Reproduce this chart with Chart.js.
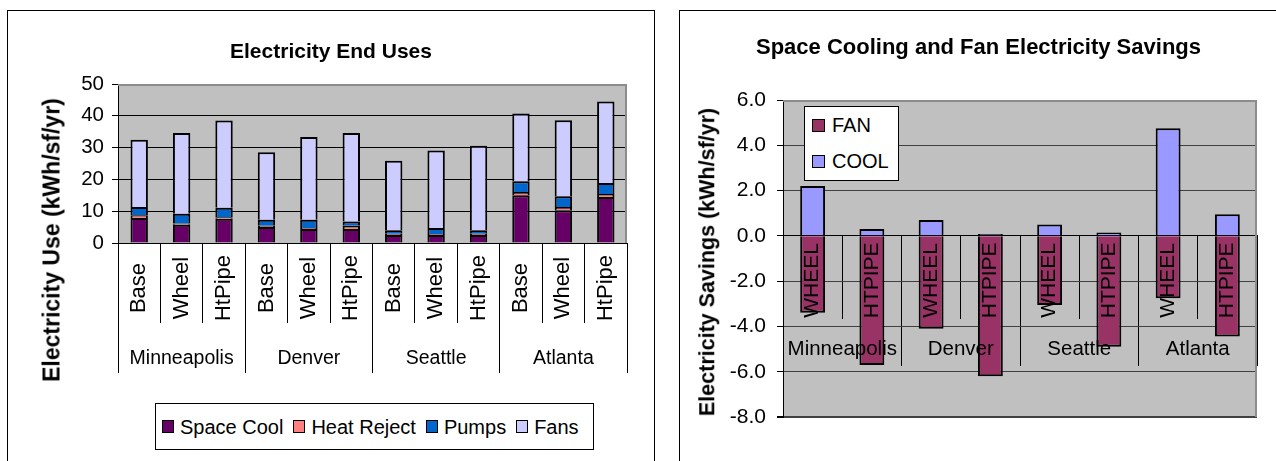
<!DOCTYPE html>
<html><head><meta charset="utf-8">
<script src="https://cdn.jsdelivr.net/npm/chart.js@4.4.1/dist/chart.umd.min.js"></script>
<style>
html,body{margin:0;padding:0;background:#fff;width:1276px;height:461px;overflow:hidden;font-family:'Liberation Sans',Arial,sans-serif;color:#000}
.frame{position:absolute;border:1px solid #000;box-sizing:border-box;background:#fff}
canvas{position:absolute;top:0}
.txt{position:absolute;white-space:nowrap;line-height:1}
.ytitle{position:absolute;white-space:nowrap;line-height:1;font-weight:bold;transform:translate(-50%,-50%) rotate(-90deg)}
.legend{position:absolute;border:1px solid #000;background:#fff;box-sizing:border-box}
.sw{display:inline-block;border:1px solid #000;box-sizing:border-box;flex:none}
.item{display:flex;align-items:center;white-space:nowrap;line-height:1}
</style></head>
<body>
<div class="frame" style="left:7px;top:10px;width:648px;height:500px"></div>
<div class="frame" style="left:679px;top:10px;width:700px;height:500px"></div>
<canvas id="c1" width="665" height="461" style="left:0"></canvas>
<canvas id="c2" width="611" height="461" style="left:665px"></canvas>
<div class="txt" style="left:0;width:662px;text-align:center;top:40px;font-size:21px;font-weight:bold">Electricity End Uses</div>
<div class="txt" style="left:679px;width:599px;text-align:center;top:36px;font-size:22px;font-weight:bold">Space Cooling and Fan Electricity Savings</div>
<div class="ytitle" style="left:52px;top:240px;font-size:23px">Electricity Use (kWh/sf/yr)</div>
<div class="ytitle" style="left:708px;top:262px;font-size:21.5px">Electricity Savings (kWh/sf/yr)</div>
<div id="leg1" class="legend" style="left:155px;top:403px;width:439px;height:47px;display:flex;align-items:center;padding-left:6px"></div>
<div id="leg2" class="legend" style="left:804px;top:106px;width:95px;height:75px"></div>
<script>
// ---- Left chart data: Electricity End Uses (kWh/sf/yr) ----
const systemLabels = ['Base','Wheel','HtPipe','Base','Wheel','HtPipe','Base','Wheel','HtPipe','Base','Wheel','HtPipe'];
const cityLabels = ['Minneapolis','Denver','Seattle','Atlanta'];
const spaceCool  = [7.9, 5.7, 7.6, 5.0, 4.4, 4.4, 2.5, 2.5, 2.5, 15.0, 10.3, 14.5];
const heatReject = [0.8, 0.4, 0.5, 0.4, 0.3, 1.0, 0.4, 0.3, 0.4, 1.0, 1.0, 0.9];
const pumps      = [2.6, 3.1, 3.0, 1.9, 2.6, 1.4, 1.1, 1.9, 1.1, 3.4, 3.4, 3.5];
const fans       = [21.2, 25.4, 27.4, 21.2, 26.0, 27.8, 21.9, 24.4, 26.6, 21.3, 23.9, 25.6];
const useAxis = {min: 0, max: 50, step: 10};

// ---- Right chart data: Space Cooling and Fan Electricity Savings ----
const savingsLabels = ['WHEEL','HTPIPE','WHEEL','HTPIPE','WHEEL','HTPIPE','WHEEL','HTPIPE'];
const fanSavings  = [-3.4, -5.7, -4.1, -6.2, -3.05, -4.9, -2.75, -4.45];
const coolSavings = [2.2, 0.3, 0.7, 0.08, 0.5, 0.15, 4.75, 0.95];
const savingsAxis = {min: -8, max: 6, step: 2};

const FONT = "'Liberation Sans', Arial, sans-serif";
Chart.defaults.font.family = FONT;
Chart.defaults.color = '#000';

const plotFrame = {
  id: 'plotFrame',
  beforeDraw(chart, args, o) {
    const {ctx, chartArea: a} = chart;
    ctx.save(); ctx.fillStyle = o.bg;
    ctx.fillRect(a.left, a.top, a.right - a.left, a.bottom - a.top);
    ctx.restore();
  },
  beforeDatasetsDraw(chart, args, o) {
    const {ctx, chartArea: a} = chart;
    ctx.save(); ctx.strokeStyle = o.edge; ctx.lineWidth = o.edgeWidth;
    ctx.beginPath();
    ctx.moveTo(a.left, a.top + o.edgeWidth / 2);
    ctx.lineTo(a.right - o.edgeWidth / 2, a.top + o.edgeWidth / 2);
    ctx.lineTo(a.right - o.edgeWidth / 2, a.bottom);
    ctx.stroke(); ctx.restore();
  }
};
const vLabels = {
  id: 'vLabels',
  afterDraw(chart, args, o) {
    const xs = chart.scales.x, {ctx} = chart;
    const yc = o.fromZero ? chart.scales.y.getPixelForValue(0) + o.offset : xs.top + o.offset;
    ctx.save(); ctx.font = o.font; ctx.fillStyle = '#000';
    ctx.textAlign = 'center'; ctx.textBaseline = 'middle';
    chart.data.labels.forEach((lab, i) => {
      ctx.save(); ctx.translate(xs.getPixelForValue(i), yc); ctx.rotate(-Math.PI / 2);
      ctx.fillText(lab, 0, 0); ctx.restore();
    });
    ctx.restore();
  }
};
const barStyle = d => Object.assign(d, {borderColor: '#000', borderWidth: 2, xAxisID: 'x', yAxisID: 'y', categoryPercentage: 1});

const useSets = [
  {label: 'Space Cool', data: spaceCool, backgroundColor: '#660066'},
  {label: 'Heat Reject', data: heatReject, backgroundColor: '#FF8080'},
  {label: 'Pumps', data: pumps, backgroundColor: '#0066CC'},
  {label: 'Fans', data: fans, backgroundColor: '#CCCCFF'}
].map(d => Object.assign(barStyle(d), {barPercentage: 0.41}));

new Chart(document.getElementById('c1'), {
  type: 'bar',
  data: {labels: systemLabels, datasets: useSets},
  options: {
    responsive: false, animation: false, devicePixelRatio: 1,
    layout: {padding: {top: 84, bottom: 88, left: 0, right: 38}},
    plugins: {
      legend: {display: false}, tooltip: {enabled: false},
      plotFrame: {bg: '#C0C0C0', edge: '#8c8c8c', edgeWidth: 2},
      vLabels: {offset: 45, font: '22px ' + FONT}
    },
    scales: {
      x: {axis: 'x', stacked: true, weight: 0, offset: true,
          grid: {offset: true, drawOnChartArea: false, tickLength: 80, color: '#000', lineWidth: 1},
          border: {display: true, color: '#000', width: 1},
          ticks: {display: false}, afterFit(s) { s.height = 80; }},
      x2: {axis: 'x', type: 'category', labels: cityLabels, position: 'bottom', weight: 1, offset: true,
           grid: {offset: true, drawOnChartArea: false, tickLength: 50, color: '#000', lineWidth: 1},
           border: {display: false},
           ticks: {font: {size: 19.5}, color: '#000', padding: -26.5, maxRotation: 0, minRotation: 0, autoSkip: false},
           afterFit(s) { s.height = 50; }},
      y: {stacked: true, min: useAxis.min, max: useAxis.max,
          ticks: {stepSize: useAxis.step, font: {size: 20.5}, color: '#000', padding: 8},
          grid: {color: c => (c.tick && c.tick.value === useAxis.max) ? 'rgba(0,0,0,0)' : '#000', tickColor: '#000', tickLength: 6, lineWidth: 1},
          border: {color: '#000', width: 1},
          afterFit(s) { s.width = 118; }}
    }
  },
  plugins: [plotFrame, vLabels]
});

const savSets = [
  {label: 'FAN', data: fanSavings, backgroundColor: '#993366'},
  {label: 'COOL', data: coolSavings, backgroundColor: '#9999FF'}
].map(d => Object.assign(barStyle(d), {barPercentage: 0.42}));

new Chart(document.getElementById('c2'), {
  type: 'bar',
  data: {labels: savingsLabels, datasets: savSets},
  options: {
    responsive: false, animation: false, devicePixelRatio: 1,
    layout: {padding: {top: 100, bottom: 44, left: 0, right: 19}},
    plugins: {
      legend: {display: false}, tooltip: {enabled: false},
      plotFrame: {bg: '#C0C0C0', edge: '#8c8c8c', edgeWidth: 2},
      vLabels: {fromZero: true, offset: 44.5, font: '21px ' + FONT}
    },
    scales: {
      x: {axis: 'x', stacked: true, position: {y: 0}, offset: true,
          grid: {offset: true, drawOnChartArea: false, tickLength: 83, color: '#000', lineWidth: 1},
          border: {display: true, color: '#000', width: 1},
          ticks: {display: false}},
      x2: {axis: 'x', type: 'category', labels: cityLabels, position: {y: 0}, offset: true,
           grid: {offset: true, drawOnChartArea: false, tickLength: 130, color: '#000', lineWidth: 1},
           border: {display: false},
           ticks: {font: {size: 20.5}, color: '#000', padding: -28.8, maxRotation: 0, minRotation: 0, autoSkip: false, z: 1}},
      y: {stacked: true, min: savingsAxis.min, max: savingsAxis.max,
          ticks: {stepSize: savingsAxis.step, callback: v => v.toFixed(1), font: {size: 21}, color: '#000', padding: 11},
          grid: {
            color: c => { const v = c.tick && c.tick.value; return v === savingsAxis.max ? 'rgba(0,0,0,0)' : (v === 0 ? '#000' : '#404040'); },
            lineWidth: c => (c.tick && c.tick.value === savingsAxis.min) ? 2 : 1,
            tickColor: '#000', tickLength: 6},
          border: {color: '#000', width: 1},
          afterFit(s) { s.width = 118; }}
    }
  },
  plugins: [plotFrame, vLabels]
});

// ---- HTML legends built from the datasets ----
const leg1 = document.getElementById('leg1');
useSets.forEach((d, i) => {
  const it = document.createElement('div'); it.className = 'item';
  it.style.marginRight = '10px'; it.style.fontSize = '20px';
  it.innerHTML = '<span class="sw" style="width:12px;height:13px;margin-right:6px;background:' + d.backgroundColor + '"></span><span>' + d.label + '</span>';
  leg1.appendChild(it);
});
const leg2 = document.getElementById('leg2');
savSets.forEach((d, i) => {
  const it = document.createElement('div'); it.className = 'item';
  it.style.position = 'absolute'; it.style.left = '7px'; it.style.top = (i === 0 ? 8 : 44) + 'px'; it.style.height = '20px';
  it.style.fontSize = '20px';
  it.innerHTML = '<span class="sw" style="width:13px;height:13px;margin-right:7px;background:' + d.backgroundColor + '"></span><span>' + d.label + '</span>';
  leg2.appendChild(it);
});
</script>
</body></html>
